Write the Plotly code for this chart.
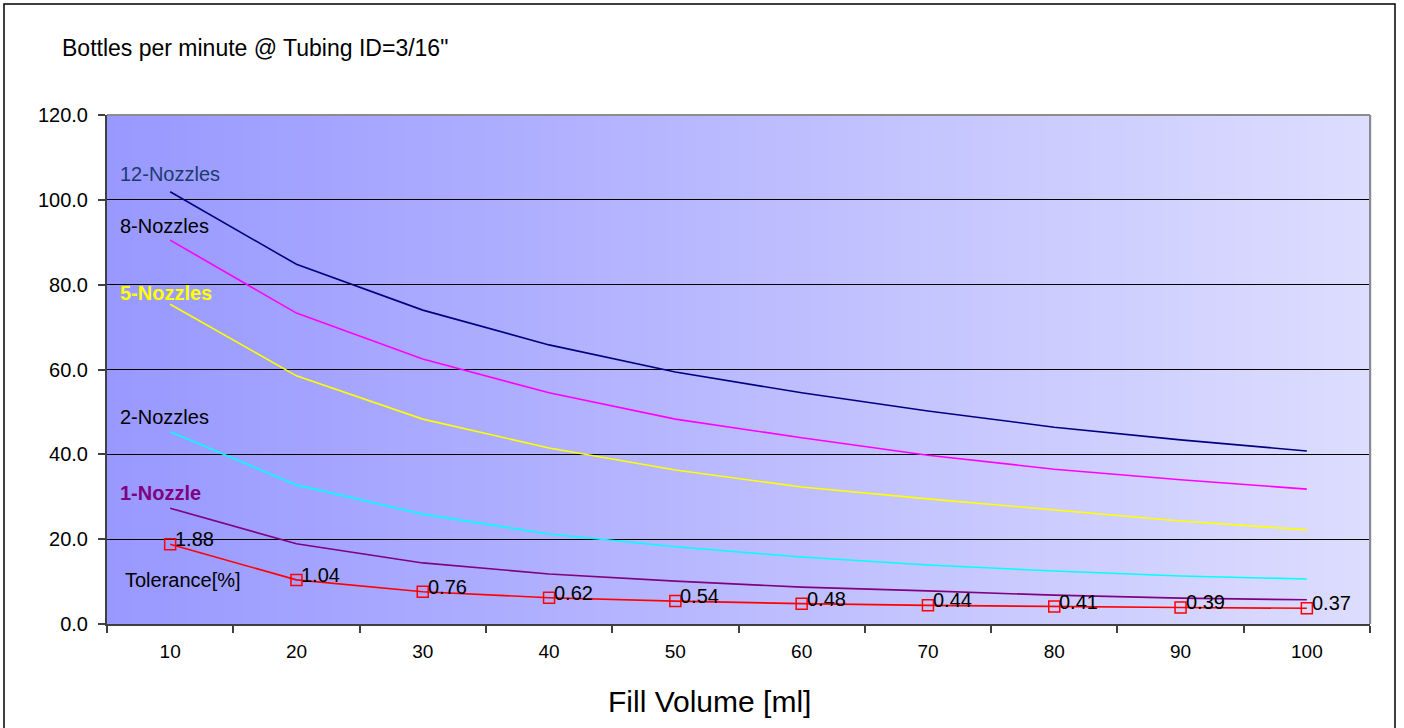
import plotly.graph_objects as go

# ---- data ----
fill_volume = ["10", "20", "30", "40", "50", "60", "70", "80", "90", "100"]
nozzles_12 = [101.9, 84.8, 74.0, 65.8, 59.4, 54.5, 50.2, 46.4, 43.4, 40.8]
nozzles_8 = [90.5, 73.3, 62.5, 54.5, 48.3, 43.9, 39.8, 36.5, 34.0, 31.8]
nozzles_5 = [75.4, 58.5, 48.3, 41.5, 36.3, 32.3, 29.5, 26.9, 24.3, 22.2]
nozzles_2 = [45.3, 32.8, 25.9, 21.2, 18.2, 15.8, 13.9, 12.5, 11.3, 10.6]
nozzle_1 = [27.3, 18.9, 14.4, 11.8, 10.1, 8.7, 7.8, 6.8, 6.1, 5.7]
tolerance = [1.88, 1.04, 0.76, 0.62, 0.54, 0.48, 0.44, 0.41, 0.39, 0.37]
tolerance_scaled = [t * 10 for t in tolerance]  # plotted at x10 on the same axis

y_ticks = [0, 20, 40, 60, 80, 100, 120]

FONT = "Liberation Sans, Arial, Helvetica, sans-serif"

W, H = 1404, 728
L, R, T, B = 107, 1370, 115, 624  # plot area in px


def px_x(p):
    return (p - L) / (R - L)


def px_y(p):
    return (B - p) / (B - T)


fig = go.Figure()

series = [
    ("12-Nozzles", nozzles_12, "#000080"),
    ("8-Nozzles", nozzles_8, "#FF00FF"),
    ("5-Nozzles", nozzles_5, "#FFFF00"),
    ("2-Nozzles", nozzles_2, "#00FFFF"),
    ("1-Nozzle", nozzle_1, "#800080"),
]
for name, vals, col in series:
    fig.add_trace(go.Scatter(x=fill_volume, y=vals, mode="lines", name=name,
                             line=dict(color=col, width=1.6), showlegend=False))

fig.add_trace(go.Scatter(x=fill_volume, y=tolerance_scaled, mode="lines+markers",
                         name="Tolerance[%]", showlegend=False,
                         line=dict(color="#FF0000", width=1.6),
                         marker=dict(symbol="square-open", size=11, color="#FF0000",
                                     line=dict(width=1.5, color="#FF0000"))))

shapes = []
# horizontal gradient background of the plot area
N = 140
c0 = (152, 152, 255)
c1 = (221, 221, 255)
for i in range(N):
    f = (i + 0.5) / N
    col = "rgb(%d,%d,%d)" % tuple(round(a + (b - a) * f) for a, b in zip(c0, c1))
    shapes.append(dict(type="rect", xref="paper", yref="paper", x0=i / N, x1=(i + 1.2) / N,
                       y0=0, y1=1, fillcolor=col, line=dict(width=0), layer="below"))
# grey top and right border of the plot area
shapes.append(dict(type="line", xref="paper", yref="paper", x0=0, x1=1, y0=1, y1=1,
                   line=dict(color="#8C8C8C", width=2), layer="above"))
shapes.append(dict(type="line", xref="paper", yref="paper", x0=1, x1=1, y0=0, y1=1,
                   line=dict(color="#8C8C8C", width=2), layer="above"))
# outer chart frame
shapes.append(dict(type="rect", xref="paper", yref="paper",
                   x0=px_x(4), x1=px_x(1395), y0=px_y(4), y1=px_y(740),
                   line=dict(color="black", width=1.5), fillcolor="rgba(0,0,0,0)", layer="above"))

annotations = []
labels = [
    ("12-Nozzles", -0.413, 106.1, "#1F3A70", False),
    ("8-Nozzles", -0.413, 93.9, "black", False),
    ("5-Nozzles", -0.413, 78.1, "#FFFF00", True),
    ("2-Nozzles", -0.413, 48.8, "black", False),
    ("1-Nozzle", -0.413, 31.0, "#800080", True),
    ("Tolerance[%]", -0.373, 10.4, "black", False),
]
for txt, x, y, col, bold in labels:
    annotations.append(dict(x=x, y=y, xref="x", yref="y", text=("<b>%s</b>" % txt) if bold else txt,
                            showarrow=False, xanchor="left", yanchor="middle",
                            font=dict(family=FONT, size=20, color=col)))

for i, t in enumerate(tolerance):
    annotations.append(dict(x=i, y=tolerance_scaled[i], xref="x", yref="y", text="%.2f" % t,
                            showarrow=False, xanchor="left", yanchor="middle",
                            xshift=3, yshift=5, font=dict(family=FONT, size=20, color="black")))

annotations.append(dict(x=px_x(709.5), y=px_y(701), xref="paper", yref="paper",
                        text="Fill Volume [ml]", showarrow=False, xanchor="center", yanchor="middle",
                        font=dict(family=FONT, size=30, color="black")))

fig.update_layout(
    width=W, height=H,
    margin=dict(l=L, r=W - R, t=T, b=H - B),
    paper_bgcolor="white", plot_bgcolor="rgba(0,0,0,0)",
    title=dict(text='Bottles per minute @ Tubing ID=3/16"', x=62 / W, xanchor="left",
               xref="container", yref="container", y=1 - 48 / H, yanchor="middle",
               font=dict(family=FONT, size=23, color="black")),
    shapes=shapes, annotations=annotations, showlegend=False,
    font=dict(family=FONT, color="black"),
)

fig.update_xaxes(type="category", categoryorder="array", categoryarray=fill_volume,
                 range=[-0.5, 9.5], tickson="boundaries", ticks="outside", ticklen=7,
                 tickwidth=1.5, tickcolor="#404040", showgrid=False, zeroline=False,
                 showline=True, linecolor="#404040", linewidth=2,
                 tickfont=dict(family=FONT, size=19, color="black"), ticklabelstandoff=9)
fig.update_yaxes(range=[0, 120], tickvals=y_ticks, tickformat=".1f", ticks="outside",
                 ticklen=7, tickwidth=1.5, tickcolor="#404040", showgrid=True,
                 gridcolor="black", gridwidth=1, zeroline=False, showline=True,
                 linecolor="#404040", linewidth=2,
                 tickfont=dict(family=FONT, size=20, color="black"), ticklabelstandoff=6)

fig.write_html("out.html")
